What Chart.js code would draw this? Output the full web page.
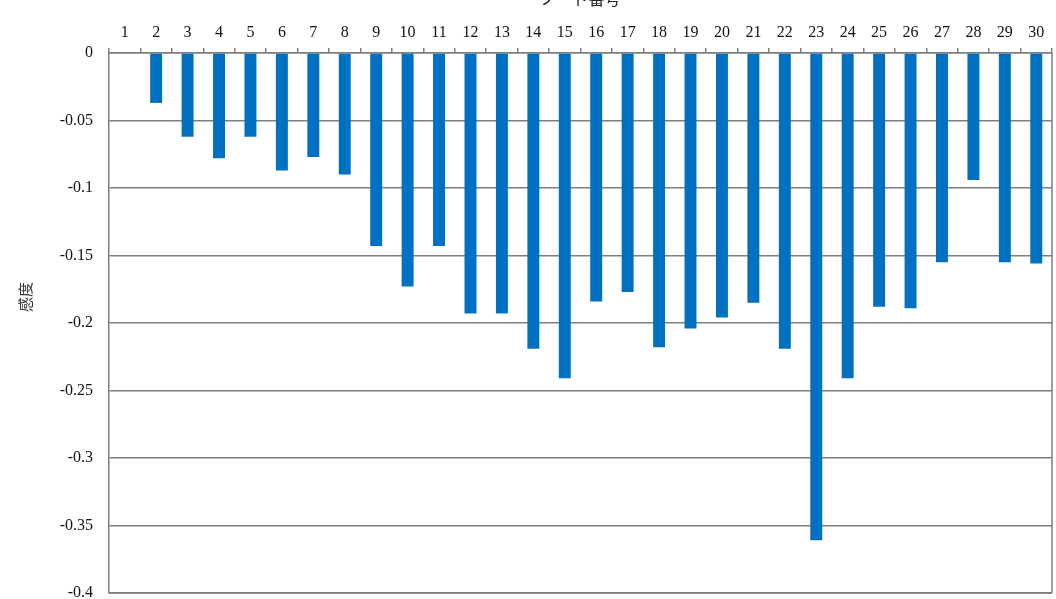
<!DOCTYPE html>
<html>
<head>
<meta charset="utf-8">
<script src="https://cdn.jsdelivr.net/npm/chart.js@4"></script>
<style>
html,body{margin:0;padding:0;background:#fff;overflow:hidden;}
canvas{display:block;}
</style>
</head>
<body>
<canvas id="c" width="1056" height="599"></canvas>
<script>
const nodes = ['1','2','3','4','5','6','7','8','9','10','11','12','13','14','15','16','17','18','19','20','21','22','23','24','25','26','27','28','29','30'];
const sensitivity = [0, -0.037, -0.062, -0.078, -0.062, -0.087, -0.077, -0.090, -0.143, -0.173,
  -0.143, -0.193, -0.193, -0.219, -0.241, -0.184, -0.177, -0.218, -0.204, -0.196,
  -0.185, -0.219, -0.361, -0.241, -0.188, -0.189, -0.155, -0.094, -0.155, -0.156];
const xTitle = 'ノード番号';
const yTitle = '感度';

const frame = {
  id: 'frame',
  afterDraw(chart) {
    const {ctx, chartArea: a} = chart;
    ctx.save();
    ctx.strokeStyle = '#7f7f7f';
    ctx.lineWidth = 1.5;
    ctx.beginPath();
    ctx.moveTo(a.right, a.top);
    ctx.lineTo(a.right, a.bottom);
    ctx.moveTo(a.left, a.bottom);
    ctx.lineTo(a.right, a.bottom);
    ctx.stroke();
    ctx.fillStyle = '#222';
    ctx.font = '16px "Noto Sans CJK JP"';
    ctx.textAlign = 'center';
    ctx.textBaseline = 'middle';
    ctx.fillText(xTitle, (a.left + a.right) / 2, -1);
    ctx.fillStyle = '#333';
    ctx.font = '15px "Noto Sans CJK JP"';
    ctx.translate(25, a.top + (a.bottom - a.top) * 0.452);
    ctx.rotate(-Math.PI / 2);
    ctx.fillText(yTitle, 0, 0);
    ctx.restore();
  }
};

new Chart(document.getElementById('c'), {
  type: 'bar',
  data: {
    labels: nodes,
    datasets: [{
      data: sensitivity,
      backgroundColor: '#0070C0',
      borderWidth: 0,
      barPercentage: 0.38,
      categoryPercentage: 1.0
    }]
  },
  options: {
    responsive: false,
    animation: false,
    devicePixelRatio: 1,
    layout: { autoPadding: false, padding: { top: 0, right: 4, bottom: 6, left: 0 } },
    plugins: { legend: { display: false }, tooltip: { enabled: false } },
    scales: {
      x: {
        position: 'top',
        offset: true,
        grid: { offset: true, drawOnChartArea: false, drawTicks: true, tickLength: 5, color: '#7f7f7f', lineWidth: 1.5 },
        border: { display: true, color: '#7f7f7f', width: 1.5 },
        ticks: { color: '#111', font: { family: '"Liberation Serif"', size: 16 }, padding: 6, maxRotation: 0, autoSkip: false },
        afterFit(s) { s.height = 53; s.paddingLeft = 0; s.paddingRight = 0; }
      },
      y: {
        min: -0.4,
        max: 0,
        grid: { drawTicks: false, color: '#7f7f7f', lineWidth: 1.5 },
        border: { display: true, color: '#7f7f7f', width: 1.5 },
        ticks: { stepSize: 0.05, color: '#111', font: { family: '"Liberation Serif"', size: 16 }, padding: 16,
          callback: v => String(Math.round(v * 100) / 100) },
        afterFit(s) { s.width = 109; s.paddingTop = 0; s.paddingBottom = 0; }
      }
    }
  },
  plugins: [frame]
});
</script>
</body>
</html>
